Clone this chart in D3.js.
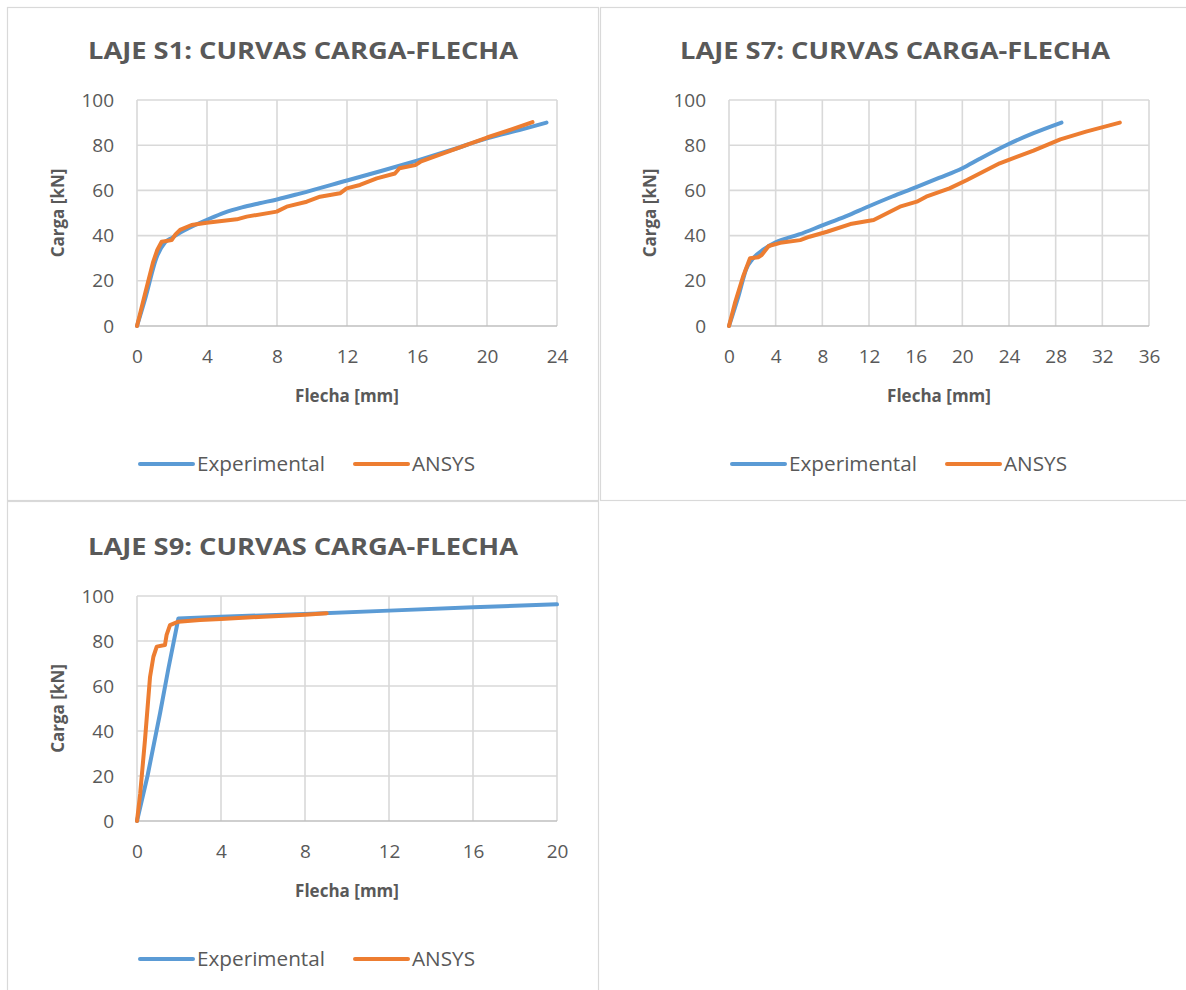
<!DOCTYPE html>
<html>
<head>
<meta charset="utf-8">
<script src="https://cdn.jsdelivr.net/npm/d3@7"></script>
<style>
  html, body { margin: 0; padding: 0; background: #fff; }
  svg { display: block; }
  text { font-family: "Open Sans", "Liberation Sans", sans-serif; fill: #595959; }
</style>
</head>
<body>
<svg id="chart" width="1186" height="990"></svg>
<script>
// Load-deflection curves (Flecha [mm], Carga [kN]) for slabs S1, S7 and S9
const s1Experimental = [[0,0],[0.5,13],[1.1,30],[1.6,37],[2,39],[2.5,41.5],[3,43.5],[4,47],[5,50.2],[6,52.5],[7,54.3],[8,56],[9.3,58.6],[12,64.4],[14,68.7],[16,73.2],[18,78],[20,83],[22,87],[23.4,90]];
const s1Ansys = [[0,0],[0.45,14],[0.91,28],[1.15,33.5],[1.41,37.3],[1.98,38],[2.2,40.5],[2.46,42.5],[3.12,44.7],[3.98,45.7],[5.7,47.2],[6.27,48.4],[7.98,50.6],[8.55,52.8],[9.7,55],[10.46,57.2],[11.6,58.7],[11.98,60.9],[12.74,62.4],[13.7,65.3],[14.74,67.5],[15.0,69.8],[15.9,71.2],[16.2,72.7],[17.5,76.4],[18.84,80.1],[20,83.4],[21.1,86.2],[22.6,90.2]];

const s7Experimental = [[0,0],[0.8,13],[1.5,25.5],[2,29.5],[3,34],[4,37],[6,40.5],[8,44.5],[10,48.5],[12,53],[14,57.3],[16,61.3],[18,65.5],[20,69.8],[21.5,74],[23.8,80.1],[26.1,85.3],[28.5,90]];
const s7Ansys = [[0,0],[0.5,10],[1.2,21.8],[1.8,30],[2.5,30.4],[2.8,31.4],[3.4,35.4],[4.4,36.8],[6.1,38],[6.9,39.5],[8.4,41.7],[10.4,45.1],[12.4,46.9],[14.65,52.8],[16.1,55],[16.9,57.2],[18.9,60.9],[20.4,64.6],[23.2,72],[26.1,77.6],[28.4,82.6],[30.6,86],[33.5,90]];

const s9Experimental = [[0,0],[0.5,20],[1.1,48],[1.5,68],[1.97,90],[4,90.8],[8,92],[12,93.5],[16,95],[20,96.3]];
const s9Ansys = [[0,0],[0.15,12],[0.38,36],[0.62,64],[0.78,73],[0.94,77.5],[1.33,78.2],[1.41,82.7],[1.57,87.1],[1.97,88.6],[3,89.3],[4,89.8],[6,90.8],[8,91.7],[9.03,92.3]];

const cargaTicks = [0, 20, 40, 60, 80, 100];
const s1FlechaTicks = [0, 4, 8, 12, 16, 20, 24];
const s7FlechaTicks = [0, 4, 8, 12, 16, 20, 24, 28, 32, 36];
const s9FlechaTicks = [0, 4, 8, 12, 16, 20];

const seriesNames = ["Experimental", "ANSYS"];
const seriesColors = ["#5B9BD5", "#ED7D31"];

const panels = [
  { title: "LAJE S1: CURVAS CARGA-FLECHA", box: [7.5, 7.5, 591, 493], plot: [137, 557, 100, 326],
    xTicks: s1FlechaTicks, series: [s1Experimental, s1Ansys], titleX: 303, legendX: 140, smoothExp: true },
  { title: "LAJE S7: CURVAS CARGA-FLECHA", box: [600.5, 7.5, 600, 493], plot: [729, 1149, 100, 326],
    xTicks: s7FlechaTicks, series: [s7Experimental, s7Ansys], titleX: 895, legendX: 732, smoothExp: true },
  { title: "LAJE S9: CURVAS CARGA-FLECHA", box: [7.5, 501.5, 591, 500], plot: [137, 557, 596, 821],
    xTicks: s9FlechaTicks, series: [s9Experimental, s9Ansys], titleX: 303, legendX: 140, smoothExp: false }
];

const svg = d3.select("#chart");

panels.forEach(p => {
  const [bx, by, bw, bh] = p.box;
  const [left, right, top, bottom] = p.plot;
  const g = svg.append("g");

  g.append("rect").attr("x", bx).attr("y", by).attr("width", bw).attr("height", bh)
    .attr("fill", "#fff").attr("stroke", "#d9d9d9").attr("stroke-width", 1.2);

  const x = d3.scaleLinear().domain([p.xTicks[0], p.xTicks[p.xTicks.length - 1]]).range([left, right]);
  const y = d3.scaleLinear().domain([0, 100]).range([bottom, top]);

  // gridlines
  g.append("g").selectAll("line").data(p.xTicks).join("line")
    .attr("x1", d => x(d)).attr("x2", d => x(d)).attr("y1", top).attr("y2", bottom)
    .attr("stroke", "#d9d9d9").attr("stroke-width", 1.6);
  g.append("g").selectAll("line").data(cargaTicks.filter(d => d > 0)).join("line")
    .attr("x1", left).attr("x2", right).attr("y1", d => y(d)).attr("y2", d => y(d))
    .attr("stroke", "#d9d9d9").attr("stroke-width", 1.6);
  g.append("line").attr("x1", left).attr("x2", right).attr("y1", y(0)).attr("y2", y(0))
    .attr("stroke", "#bfbfbf").attr("stroke-width", 1.6);

  // axes tick labels
  const xAxis = d3.axisBottom(x).tickValues(p.xTicks).tickSize(0).tickPadding(24);
  const xg = g.append("g").attr("transform", `translate(0,${bottom})`).call(xAxis);
  xg.select(".domain").remove();
  xg.selectAll("text").attr("font-size", 19).attr("fill", "#595959")
    .attr("font-family", "'Open Sans', sans-serif");

  const yAxis = d3.axisLeft(y).tickValues(cargaTicks).tickSize(0).tickPadding(23);
  const yg = g.append("g").attr("transform", `translate(${left},0)`).call(yAxis);
  yg.select(".domain").remove();
  yg.selectAll("text").attr("font-size", 19).attr("fill", "#595959")
    .attr("font-family", "'Open Sans', sans-serif");

  // title
  g.append("text").attr("x", p.titleX).attr("y", top - 41).attr("text-anchor", "middle")
    .attr("font-size", 23).attr("font-weight", "bold")
    .attr("textLength", 430).attr("lengthAdjust", "spacingAndGlyphs")
    .text(p.title);

  // axis titles
  g.append("text").attr("x", (left + right) / 2).attr("y", bottom + 76).attr("text-anchor", "middle")
    .attr("font-size", 17).attr("font-weight", "bold").text("Flecha [mm]");
  g.append("text").attr("transform", `translate(${left - 73},${(top + bottom) / 2}) rotate(-90)`)
    .attr("text-anchor", "middle").attr("font-size", 17).attr("font-weight", "bold").text("Carga [kN]");

  // curves
  p.series.forEach((s, i) => {
    const curve = (i === 0 && p.smoothExp) ? d3.curveMonotoneX : d3.curveLinear;
    const line = d3.line().curve(curve).x(d => x(d[0])).y(d => y(d[1]));
    g.append("path").datum(s).attr("d", line).attr("fill", "none")
      .attr("stroke", seriesColors[i]).attr("stroke-width", 4)
      .attr("stroke-linejoin", "round").attr("stroke-linecap", "round");
  });

  // legend
  const ly = bottom + 138;
  const offsets = [0, 215];
  seriesNames.forEach((name, i) => {
    const lx = p.legendX + offsets[i];
    g.append("line").attr("x1", lx).attr("x2", lx + 53).attr("y1", ly).attr("y2", ly)
      .attr("stroke", seriesColors[i]).attr("stroke-width", 4).attr("stroke-linecap", "round");
    g.append("text").attr("x", lx + 57).attr("y", ly + 7).attr("font-size", 20)
      .attr("textLength", i === 0 ? 128 : 63).attr("lengthAdjust", "spacingAndGlyphs").text(name);
  });
});
</script>
</body>
</html>
